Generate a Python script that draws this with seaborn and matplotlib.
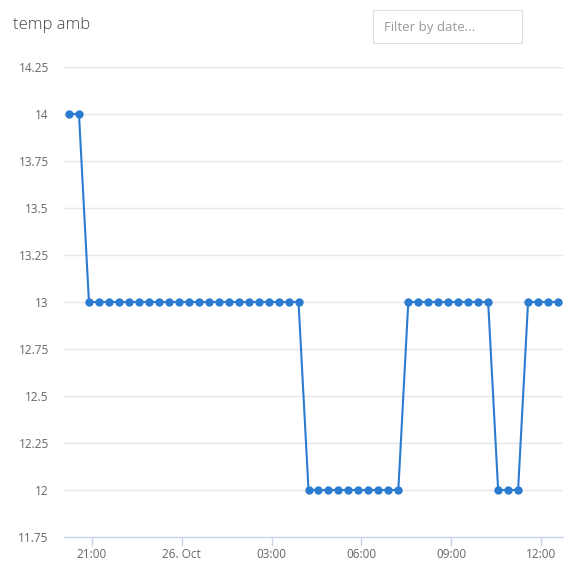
import pandas as pd
import matplotlib
matplotlib.use("Agg")
import matplotlib.pyplot as plt
import matplotlib.dates as mdates
from matplotlib.patches import Rectangle
from matplotlib.ticker import FuncFormatter
import seaborn as sns


# DATA: one reading every 20 minutes
start_time = "2017-10-25 20:14"
interval = "20min"
temp_amb = [
    14, 14,
    13, 13, 13, 13, 13, 13, 13, 13, 13, 13, 13,
    13, 13, 13, 13, 13, 13, 13, 13, 13, 13, 13,
    12, 12, 12, 12, 12, 12, 12, 12, 12, 12,
    13, 13, 13, 13, 13, 13, 13, 13, 13,
    12, 12, 12,
    13, 13, 13, 13,
]
y_ticks = [11.75, 12, 12.25, 12.5, 12.75, 13, 13.25, 13.5, 13.75, 14, 14.25]

times = pd.date_range(start=start_time, periods=len(temp_amb), freq=interval)
df = pd.DataFrame({"time": times, "temp": temp_amb})

sns.set_style("white")
plt.rcParams["font.family"] = ["Open Sans", "DejaVu Sans"]

fig = plt.figure(figsize=(5.83, 5.83), dpi=100)
ax = fig.add_axes([64 / 583, 1 - 537 / 583, (563 - 64) / 583, (537 - 67) / 583])

line_color = "#2b7bd0"
sns.lineplot(
    data=df, x="time", y="temp", ax=ax,
    color=line_color, linewidth=1.5,
    marker="o", markersize=6, markeredgewidth=0,
)

# axes ranges
pad = pd.Timedelta(minutes=10)
ax.set_xlim(times[0] - pad, times[-1] + pad)
ax.set_ylim(y_ticks[0], y_ticks[-1])
ax.set_yticks(y_ticks)
ax.yaxis.set_major_formatter(FuncFormatter(lambda v, p: f"{v:g}"))

ax.xaxis.set_major_locator(mdates.HourLocator(byhour=range(0, 24, 3)))
def fmt_time(v, p):
    d = mdates.num2date(v)
    if d.hour == 0 and d.minute == 0:
        return d.strftime("%d. %b")
    return d.strftime("%H:%M")
ax.xaxis.set_major_formatter(FuncFormatter(fmt_time))

ax.set_xlabel("")
ax.set_ylabel("")
ax.grid(axis="y", color="#e6e6e6", linewidth=1)
ax.grid(axis="x", visible=False)
for side in ["left", "right", "top"]:
    ax.spines[side].set_visible(False)
ax.spines["bottom"].set_color("#ccd6eb")
ax.spines["bottom"].set_linewidth(1)

ax.tick_params(axis="y", length=0, pad=11, labelsize=8.5, labelcolor="#666666")
ax.tick_params(axis="x", length=6.5, width=1, color="#ccd6eb", direction="out",
               pad=1.5, labelsize=8.5, labelcolor="#666666", bottom=True)

# title and filter box
fig.text(13 / 583, 1 - 25 / 583, "temp amb", fontsize=12, color="#444444",
         va="center", ha="left", fontweight="light")
fig.patches.append(Rectangle((373 / 583, 1 - 43 / 583), 149 / 583, 33 / 583,
                             transform=fig.transFigure, facecolor="white",
                             edgecolor="#dddddd", linewidth=0.8))
fig.text(384 / 583, 1 - 27 / 583, "Filter by date...", fontsize=9.5,
         color="#999999", va="center", ha="left")

fig.savefig("out.png", dpi=100)
